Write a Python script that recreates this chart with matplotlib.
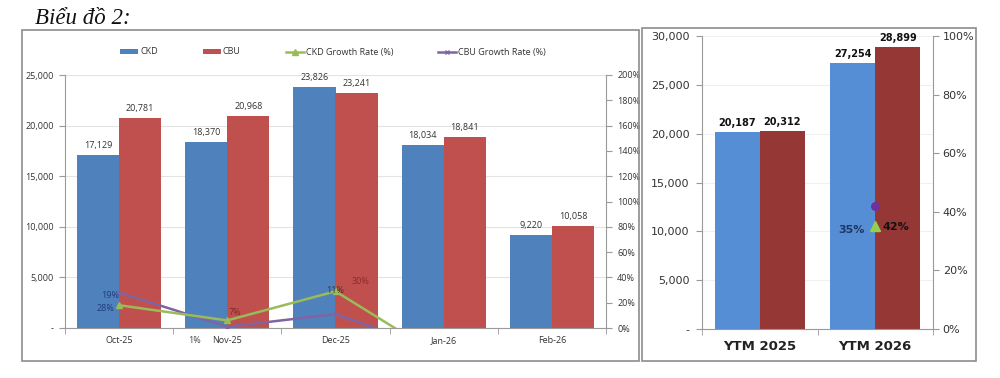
import matplotlib
matplotlib.use("Agg")
import matplotlib.pyplot as plt
from matplotlib.patches import Rectangle
from matplotlib.ticker import FuncFormatter, FixedLocator
import numpy as np

# ---------------- data ----------------
months = ["Oct-25", "Nov-25", "Dec-25", "Jan-26", "Feb-26"]
ckd = [17129, 18370, 23826, 18034, 9220]
cbu = [20781, 20968, 23241, 18841, 10058]
ckd_growth = [18, 6, 29, -24, np.nan]     # % (plotted positions)
cbu_growth = [28, 1, 11, -19, np.nan]
ckd_growth_labels = ["28%", "7%", "11%"]
cbu_growth_labels = ["19%", "1%", "30%"]

ytm_cats = ["YTM 2025", "YTM 2026"]
ytm_ckd = [20187, 27254]
ytm_cbu = [20312, 28899]
ytm_ckd_growth = [np.nan, 35]
ytm_cbu_growth = [np.nan, 42]
ytm_ckd_growth_labels = ["", "35%"]
ytm_cbu_growth_labels = ["", "42%"]

# ---------------- style ----------------
BLUE_L, RED_L = "#4F81BD", "#C0504D"
GREEN, PURPLE = "#9BBB59", "#8064A2"
BLUE_R, RED_R = "#558ED5", "#953735"
GRID = "#E3E3E3"
SPINE = "#9A9A9A"
TXT = "#333333"

W, H = 1000, 378
fig = plt.figure(figsize=(W / 100, H / 100), dpi=100)

def fx(px):
    return px / W

def fy(py):
    return 1 - py / H

# frames
fig.patches.append(Rectangle((fx(22), fy(361)), fx(639) - fx(22), fy(30) - fy(361),
                             transform=fig.transFigure, fill=False, ec="#8C8C8C", lw=1.2))
fig.patches.append(Rectangle((fx(642), fy(361)), fx(976) - fx(642), fy(28) - fy(361),
                             transform=fig.transFigure, fill=False, ec="#8C8C8C", lw=1.2))

fig.text(fx(35), fy(18), "Biểu đồ 2:", family="Liberation Serif", style="italic",
         fontsize=16.5, va="center", ha="left", color="#111111")

LF = ["Open Sans", "DejaVu Sans"]

def k_fmt(v, _):
    return "-" if v == 0 else f"{int(v):,}"

def pct_fmt(v, _):
    return f"{int(round(v))}%"

# ---------------- left chart ----------------
ax = fig.add_axes([fx(65), fy(328), fx(606) - fx(65), fy(75) - fy(328)])
x = np.arange(len(months))
w = 0.39
b1 = ax.bar(x - w / 2, ckd, w, color=BLUE_L, label="CKD", zorder=2)
b2 = ax.bar(x + w / 2, cbu, w, color=RED_L, label="CBU", zorder=2)
ax.set_xlim(-0.5, len(months) - 0.5)
ax.set_ylim(0, 25000)
ax.set_yticks(np.arange(0, 25001, 5000))
ax.yaxis.set_major_formatter(FuncFormatter(k_fmt))
ax.grid(axis="y", color=GRID, lw=0.8, zorder=0)
ax.set_axisbelow(True)
ax.set_xticks(x)
ax.set_xticklabels(months)
ax.xaxis.set_minor_locator(FixedLocator(np.arange(-0.5, len(months), 1.0)))
ax.tick_params(axis="x", which="major", length=0, pad=6, labelsize=6.5, labelcolor=TXT)
ax.tick_params(axis="x", which="minor", length=4, direction="out", color=SPINE)
ax.tick_params(axis="y", length=4, direction="out", color=SPINE, labelsize=6.5,
               labelcolor=TXT, pad=4)
for lab in ax.get_xticklabels() + ax.get_yticklabels():
    lab.set_family(LF)
for s in ["top", "right"]:
    ax.spines[s].set_visible(False)
for s in ["left", "bottom"]:
    ax.spines[s].set_color(SPINE)

for rect, v in zip(b1, ckd):
    ax.annotate(f"{v:,}", (rect.get_x() + rect.get_width() / 2, v), xytext=(0, 5),
                textcoords="offset pixels", ha="center", va="bottom", fontsize=6.5,
                color=TXT, family=LF, zorder=5)
for rect, v in zip(b2, cbu):
    ax.annotate(f"{v:,}", (rect.get_x() + rect.get_width() / 2, v), xytext=(0, 5),
                textcoords="offset pixels", ha="center", va="bottom", fontsize=6.5,
                color=TXT, family=LF, zorder=5)

ax2 = ax.twinx()
ax2.set_ylim(0, 200)
ax2.set_yticks(np.arange(0, 201, 20))
ax2.yaxis.set_major_formatter(FuncFormatter(pct_fmt))
ax2.tick_params(axis="y", length=4, direction="out", color=SPINE, labelsize=6.5,
                labelcolor=TXT, pad=4)
for lab in ax2.get_yticklabels():
    lab.set_family(LF)
for s in ["top", "left", "bottom"]:
    ax2.spines[s].set_visible(False)
ax2.spines["right"].set_color(SPINE)

l1, = ax2.plot(x, ckd_growth, color=GREEN, lw=1.8, marker="^", ms=4,
               label="CKD Growth Rate (%)", zorder=4)
l2, = ax2.plot(x, cbu_growth, color=PURPLE, lw=1.8, marker="x", ms=3, mew=1,
               label="CBU Growth Rate (%)", zorder=3)

ckd_offsets = [(-14, -3), (8, 8), (0, 1)]
ckd_colors = ["#1F3D7A", "#7A2A2A", "#3A3A2A"]
for i, (t, off, c) in enumerate(zip(ckd_growth_labels, ckd_offsets, ckd_colors)):
    ax2.annotate(t, (x[i], ckd_growth[i]), xytext=off, textcoords="offset pixels",
                 ha="center", va="center", fontsize=6.5, color=c, family=LF,
                 annotation_clip=False, zorder=6)
cbu_offsets = [(-9, -3), (-33, -14), (25, 33)]
cbu_colors = ["#1F3D7A", "#444444", "#8B2A2A"]
for i, (t, off, c) in enumerate(zip(cbu_growth_labels, cbu_offsets, cbu_colors)):
    ax2.annotate(t, (x[i], cbu_growth[i]), xytext=off, textcoords="offset pixels",
                 ha="center", va="center", fontsize=6.5, color=c, family=LF,
                 annotation_clip=False, zorder=6)

fig.legend(handles=[b1, b2, l1, l2], loc="center", bbox_to_anchor=(fx(333), fy(52)),
           ncol=4, frameon=False, prop={"family": LF, "size": 6.5},
           handlelength=2.0, handleheight=0.5, columnspacing=5.0, handletextpad=0.2,
           labelcolor=TXT)

# ---------------- right chart ----------------
RF = ["DejaVu Sans"]
bx = fig.add_axes([fx(702), fy(329), fx(933) - fx(702), fy(36) - fy(329)])
xr = np.arange(len(ytm_cats))
r1 = bx.bar(xr - w / 2, ytm_ckd, w, color=BLUE_R, zorder=2)
r2 = bx.bar(xr + w / 2, ytm_cbu, w, color=RED_R, zorder=2)
bx.set_xlim(-0.5, len(ytm_cats) - 0.5)
bx.set_ylim(0, 30000)
bx.set_yticks(np.arange(0, 30001, 5000))
bx.yaxis.set_major_formatter(FuncFormatter(k_fmt))
bx.grid(axis="y", color="#F0F0F0", lw=0.8, zorder=0)
bx.set_axisbelow(True)
bx.set_xticks(xr)
bx.set_xticklabels(ytm_cats)
bx.xaxis.set_minor_locator(FixedLocator(np.arange(-0.5, len(ytm_cats), 1.0)))
bx.tick_params(axis="x", which="major", length=0, pad=8, labelsize=9.5, labelcolor="#222222")
bx.tick_params(axis="x", which="minor", length=4, direction="out", color=SPINE)
bx.tick_params(axis="y", length=4, direction="out", color=SPINE, labelsize=8,
               labelcolor="#333333", pad=5)
for lab in bx.get_xticklabels():
    lab.set_family(RF)
    lab.set_fontweight("bold")
for lab in bx.get_yticklabels():
    lab.set_family(RF)
for s in ["top", "right"]:
    bx.spines[s].set_visible(False)
for s in ["left", "bottom"]:
    bx.spines[s].set_color(SPINE)

for rect, v in zip(r1, ytm_ckd):
    bx.annotate(f"{v:,}", (rect.get_x() + rect.get_width() / 2, v), xytext=(0, 4),
                textcoords="offset pixels", ha="center", va="bottom", fontsize=7,
                fontweight="bold", color="#111111", family=RF, zorder=5)
for rect, v in zip(r2, ytm_cbu):
    bx.annotate(f"{v:,}", (rect.get_x() + rect.get_width() / 2, v), xytext=(0, 4),
                textcoords="offset pixels", ha="center", va="bottom", fontsize=7,
                fontweight="bold", color="#111111", family=RF, zorder=5)

bx2 = bx.twinx()
bx2.set_ylim(0, 100)
bx2.set_yticks(np.arange(0, 101, 20))
bx2.yaxis.set_major_formatter(FuncFormatter(pct_fmt))
bx2.tick_params(axis="y", length=4, direction="out", color=SPINE, labelsize=8,
                labelcolor="#333333", pad=3)
for lab in bx2.get_yticklabels():
    lab.set_family(RF)
for s in ["top", "left", "bottom"]:
    bx2.spines[s].set_visible(False)
bx2.spines["right"].set_color(SPINE)

bx2.plot(xr, ytm_ckd_growth, ls="none", marker="^", ms=7, color="#92D050", zorder=4)
bx2.plot(xr, ytm_cbu_growth, ls="none", marker="o", ms=5.5, color="#7030A0", zorder=4)
for i, t in enumerate(ytm_ckd_growth_labels):
    if t:
        bx2.annotate(t, (xr[i], ytm_ckd_growth[i]), xytext=(-24, -4),
                     textcoords="offset pixels", ha="center", va="center", fontsize=8,
                     fontweight="bold", color="#1F3864", family=RF, zorder=6)
for i, t in enumerate(ytm_cbu_growth_labels):
    if t:
        bx2.annotate(t, (xr[i], ytm_cbu_growth[i]), xytext=(21, -21),
                     textcoords="offset pixels", ha="center", va="center", fontsize=8,
                     fontweight="bold", color="#111111", family=RF, zorder=6)

fig.savefig("out.png", dpi=100, facecolor="white")
